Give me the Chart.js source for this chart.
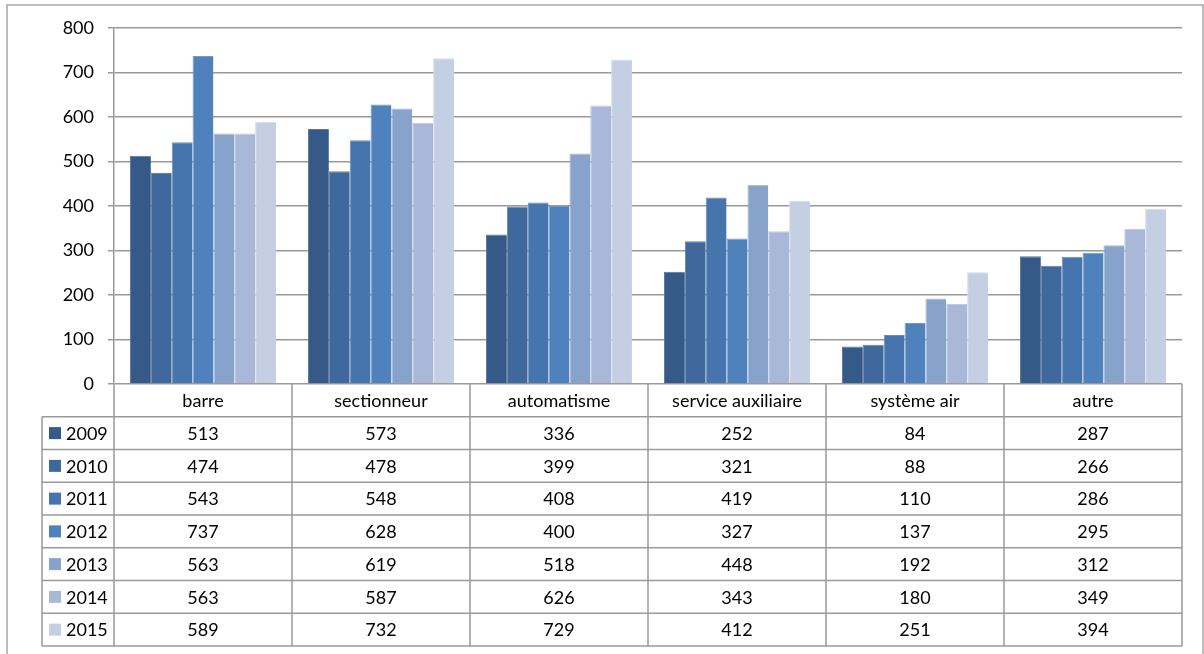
<!DOCTYPE html>
<html lang="fr">
<head>
  <meta charset="UTF-8">
  <script src="https://cdn.jsdelivr.net/npm/chart.js"></script>
  <style>
    body { margin: 0; background: #fff; }
    .chart-box { width: 1204px; height: 654px; position: relative; }
  </style>
</head>
<body>
  <div class="chart-box">
    <canvas id="chartIncidents"></canvas>
  </div>

<script>
  // catégories et séries
  const categories = ['barre', 'sectionneur', 'automatisme', 'service auxiliaire', 'système air', 'autre'];
  const years = ['2009', '2010', '2011', '2012', '2013', '2014', '2015'];
  const v2009 = [513, 573, 336, 252, 84, 287];
  const v2010 = [474, 478, 399, 321, 88, 266];
  const v2011 = [543, 548, 408, 419, 110, 286];
  const v2012 = [737, 628, 400, 327, 137, 295];
  const v2013 = [563, 619, 518, 448, 192, 312];
  const v2014 = [563, 587, 626, 343, 180, 349];
  const v2015 = [589, 732, 729, 412, 251, 394];
  const seriesValues = [v2009, v2010, v2011, v2012, v2013, v2014, v2015];
  const colors = ['#365a87', '#3f699c', '#4674ad', '#4f81bd', '#87a2cb', '#a9b8d8', '#c5cfe3'];
  const edges = ['#5a7698', '#6282aa', '#6a8dba', '#7299c8', '#a3b7d6', '#bfcae1', '#d5ddeb'];

  const FONT_FAMILY = 'Lato, "Open Sans", sans-serif';
  const FONT = '18px ' + FONT_FAMILY;
  const LINE = '#9a9a9a';

  // tableau de données sous le graphique (style Excel)
  const dataTablePlugin = {
    id: 'dataTable',
    afterDraw(chart) {
      const ctx = chart.ctx;
      const area = chart.chartArea;
      const x = chart.scales.x;
      const rowH = (646 - area.bottom) / (years.length + 1);
      const tableLeft = 42;
      const catW = (area.right - area.left) / categories.length;
      const bottom = area.bottom + rowH * (years.length + 1);

      ctx.save();
      // cadre extérieur
      ctx.strokeStyle = '#a6a6a6';
      ctx.lineWidth = 1.5;
      ctx.strokeRect(7, 5, 1196, 700);

      ctx.strokeStyle = LINE;
      ctx.lineWidth = 1.5;
      ctx.beginPath();
      for (let i = 1; i <= years.length + 1; i++) {
        const yy = area.bottom + rowH * i;
        ctx.moveTo(i === 1 ? tableLeft : tableLeft, yy);
        ctx.lineTo(area.right, yy);
      }
      ctx.moveTo(tableLeft, area.bottom + rowH);
      ctx.lineTo(tableLeft, bottom);
      for (let c = 0; c <= categories.length; c++) {
        const xx = area.left + catW * c;
        ctx.moveTo(xx, area.bottom);
        ctx.lineTo(xx, bottom);
      }
      ctx.stroke();

      ctx.font = FONT;
      ctx.fillStyle = '#000';
      ctx.textBaseline = 'middle';
      ctx.textAlign = 'center';
      categories.forEach((cat, c) => {
        const cx = x.getPixelForValue(c);
        ctx.fillText(cat, cx, area.bottom + rowH / 2 + 1);
        seriesValues.forEach((vals, s) => {
          ctx.fillText(String(vals[c]), cx, area.bottom + rowH * (s + 1.5) + 1);
        });
      });

      // légende dans la première colonne
      ctx.textAlign = 'left';
      years.forEach((yr, s) => {
        const cy = area.bottom + rowH * (s + 1.5);
        ctx.fillStyle = colors[s];
        ctx.fillRect(49, cy - 6, 12, 12);
        ctx.fillStyle = '#000';
        ctx.fillText(yr, 66, cy + 1);
      });
      ctx.restore();
    }
  };

  const ctxChart = document.getElementById('chartIncidents').getContext('2d');
  const chartIncidents = new Chart(ctxChart, {
    type: 'bar',
    data: {
      labels: categories,
      datasets: years.map((yr, i) => ({
        label: yr,
        data: seriesValues[i],
        backgroundColor: colors[i],
        borderColor: edges[i],
        borderWidth: { top: 1, left: 1, right: 0, bottom: 0 },
        categoryPercentage: 0.82,
        barPercentage: 1
      }))
    },
    options: {
      responsive: true,
      maintainAspectRatio: false,
      animation: false,
      layout: { padding: { left: 0, right: 22, top: 28, bottom: 270 } },
      plugins: {
        legend: { display: false },
        tooltip: { enabled: false }
      },
      scales: {
        x: { display: false },
        y: {
          min: 0,
          max: 800,
          afterFit(scale) { scale.width = 114; },
          ticks: {
            stepSize: 100,
            padding: 14,
            color: '#000',
            font: { family: FONT_FAMILY, size: 18 }
          },
          grid: { color: LINE, lineWidth: 1.5, tickLength: 6 },
          border: { color: LINE, width: 1.5 }
        }
      }
    },
    plugins: [dataTablePlugin]
  });
</script>
</body>
</html>
